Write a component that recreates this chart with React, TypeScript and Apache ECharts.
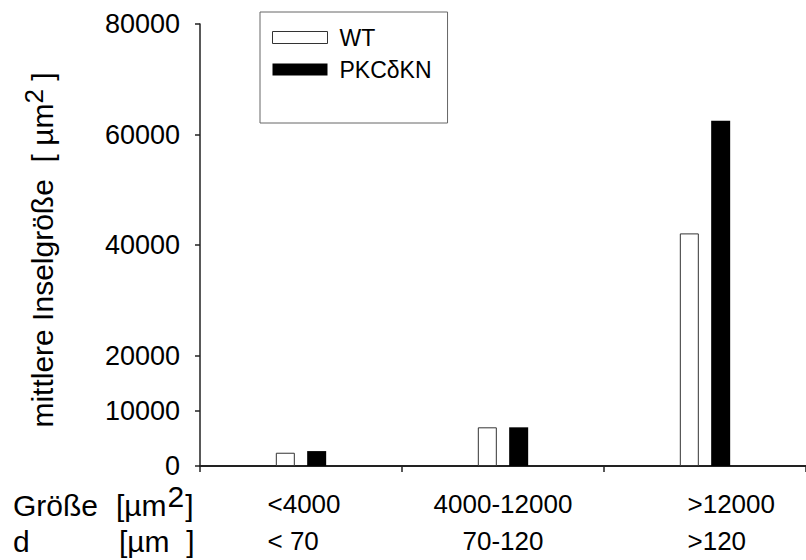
import React, { useEffect, useRef } from "react";
import * as echarts from "echarts";

// Size classes of the islets (area and corresponding diameter)
const categories = ["<4000", "4000-12000", ">12000"];
const diameterLabels = ["< 70", "70-120", ">120"];

// Mean islet size [µm²] per genotype
const wtValues = [2400, 7000, 42100];
const pkcValues = [2700, 7000, 62500];

// Labelled ticks on the value axis
const yTickValues = [0, 10000, 20000, 40000, 60000, 80000];

const FONT = "'Liberation Sans', Arial, sans-serif";

// Per-category label layout: first and last labels are left-aligned blocks
const labelStyleKeys = ["l", "c", "r"];

export default function App() {
  const ref = useRef<HTMLDivElement>(null);

  useEffect(() => {
    if (!ref.current) return;
    const chart = echarts.init(ref.current, undefined, { renderer: "svg" });

    const labelBase = { fontSize: 26, lineHeight: 37, color: "#000", fontFamily: FONT };

    chart.setOption({
      animation: false,
      backgroundColor: "#fff",
      textStyle: { fontFamily: FONT },
      grid: { left: 200, right: -9, top: 24, bottom: 94, containLabel: false },
      legend: {
        left: 260,
        top: 12,
        orient: "vertical",
        itemWidth: 55,
        itemHeight: 12,
        itemGap: 9,
        padding: [14, 16, 42, 12],
        borderColor: "#666",
        borderWidth: 1,
        backgroundColor: "#fff",
        textStyle: { fontSize: 23, color: "#000", lineHeight: 22, padding: [0, 0, 0, 7], fontFamily: FONT },
        data: [
          { name: "WT", icon: "rect", itemStyle: { color: "#fff", borderColor: "#333", borderWidth: 1 } },
          { name: "PKCδKN", icon: "rect", itemStyle: { color: "#000" } },
        ],
      },
      xAxis: [
        {
          type: "category",
          data: categories,
          axisLine: { lineStyle: { color: "#222", width: 2 } },
          axisTick: { alignWithLabel: true, length: 6, lineStyle: { color: "#222", width: 1.5 } },
          axisLabel: {
            margin: 19,
            color: "#000",
            formatter: (v: string, i: number) => {
              const k = labelStyleKeys[i];
              return `{${k}|${v}}\n{${k}|${diameterLabels[i]}}`;
            },
            rich: {
              l: { ...labelBase, width: 73, align: "left", padding: [0, 0, 0, 6] },
              c: { ...labelBase },
              r: { ...labelBase, width: 87, align: "left", padding: [0, 0, 0, 52] },
            },
          },
        },
        {
          type: "category",
          data: categories,
          position: "bottom",
          axisLine: { show: false },
          axisTick: { show: true, alignWithLabel: false, length: 6, lineStyle: { color: "#222", width: 1.5 } },
          axisLabel: { show: false },
        },
      ],
      yAxis: {
        type: "value",
        min: 0,
        max: 80000,
        interval: 10000,
        name: "mittlere Inselgröße  [ µm{s|2} ]",
        nameLocation: "middle",
        nameGap: 137,
        nameTextStyle: {
          fontSize: 30,
          color: "#000",
          fontFamily: FONT,
          padding: [0, 10, 0, 0],
          rich: { s: { fontSize: 26, padding: [0, 0, 16, 0], fontFamily: FONT, color: "#000" } },
        },
        splitLine: { show: false },
        axisLine: { show: true, lineStyle: { color: "#222", width: 1.5 } },
        axisTick: { show: true, length: 5, customValues: yTickValues, lineStyle: { color: "#222", width: 1.5 } },
        axisLabel: {
          customValues: yTickValues,
          formatter: (v: number) => String(v),
          fontSize: 27,
          color: "#000",
          margin: 20,
          fontFamily: FONT,
        },
      },
      series: [
        {
          name: "WT",
          type: "bar",
          xAxisIndex: 0,
          data: wtValues,
          barWidth: 19,
          barGap: "65%",
          itemStyle: { color: "#fff", borderColor: "#333", borderWidth: 1 },
        },
        {
          name: "PKCδKN",
          type: "bar",
          xAxisIndex: 0,
          data: pkcValues,
          barWidth: 19,
          itemStyle: { color: "#000" },
        },
      ],
      graphic: [
        {
          type: "text",
          x: 13,
          y: 505,
          style: { text: "Größe", font: `30px ${FONT}`, fill: "#000", verticalAlign: "middle" },
        },
        {
          type: "text",
          x: 116,
          y: 505,
          style: {
            text: "[µm{s|2}]",
            font: `30px ${FONT}`,
            fill: "#000",
            verticalAlign: "middle",
            rich: { s: { fontSize: 30, padding: [0, 1, 18, 1], fill: "#000" } },
          },
        },
        {
          type: "text",
          x: 13,
          y: 541,
          style: { text: "d", font: `30px ${FONT}`, fill: "#000", verticalAlign: "middle" },
        },
        {
          type: "text",
          x: 119,
          y: 541,
          style: { text: "[µm  ]", font: `30px ${FONT}`, fill: "#000", verticalAlign: "middle" },
        },
      ],
    });

    return () => chart.dispose();
  }, []);

  return <div ref={ref} style={{ width: 806, height: 560, position: "absolute", left: 0, top: 0 }} />;
}
